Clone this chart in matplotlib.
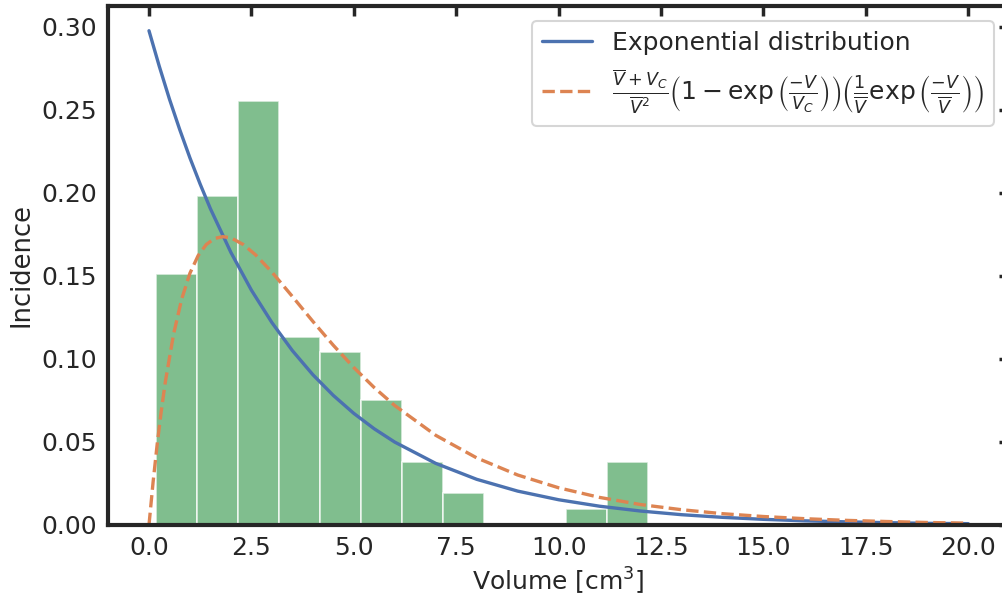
import matplotlib
matplotlib.use('Agg')
import matplotlib.pyplot as plt
import seaborn as sns

# histogram of volumes (density, bin width 1 cm^3)
bin_left = [0.17, 1.17, 2.17, 3.17, 4.17, 5.17, 6.17, 7.17, 8.17, 9.17, 10.17, 11.17]
incidence = [0.151, 0.198, 0.255, 0.113, 0.104, 0.075, 0.038, 0.019, 0.0, 0.0, 0.0094, 0.038]

# exponential curve
exp_v = [0, 0.25, 0.5, 0.75, 1, 1.25, 1.5, 2, 2.5, 3, 3.5, 4, 4.5, 5, 5.5, 6, 7, 8, 9, 10,
         11, 12, 13, 14, 15, 16, 17, 18, 19, 20]
exp_y = [0.2976, 0.2763, 0.2564, 0.2381, 0.2210, 0.2052, 0.1904, 0.1641, 0.1414, 0.1219,
         0.1050, 0.0905, 0.0780, 0.0672, 0.0579, 0.0499, 0.0371, 0.0275, 0.0204, 0.0152,
         0.0113, 0.0084, 0.0062, 0.0046, 0.0034, 0.0025, 0.0019, 0.0014, 0.0010, 0.0008]

# two-exponential curve
mod_v = [0, 0.1, 0.2, 0.3, 0.4, 0.6, 0.8, 1.0, 1.2, 1.4, 1.6, 1.8, 2.0, 2.3, 2.6,
         3.0, 3.5, 4.0, 4.5, 5.0, 5.5, 6, 7, 8, 9, 10, 11, 12, 13, 14, 15, 16,
         17, 18, 19, 20]
mod_y = [0.0, 0.0258, 0.0486, 0.0687, 0.0863, 0.1149, 0.1362, 0.1516, 0.1622,
         0.1689, 0.1725, 0.1736, 0.1729, 0.1689, 0.1627, 0.1523, 0.1376, 0.1226,
         0.1082, 0.0948, 0.0827, 0.0719, 0.0540, 0.0404, 0.0301, 0.0224, 0.0166,
         0.0123, 0.0092, 0.0068, 0.0051, 0.0038, 0.0028, 0.0021, 0.0015, 0.0011]

sns.set_theme(style='ticks', context='talk')
pal = sns.color_palette('deep')
plt.rcParams['font.family'] = ['DejaVu Sans']

fig = plt.figure(figsize=(10.03, 5.98), dpi=100)
ax = fig.add_axes([0.1077, 0.1221, 0.8985, 0.8679])

ax.bar(bin_left, incidence, width=1.0, align='edge', color=pal[2], alpha=0.75,
       edgecolor='white', linewidth=1.2)
ax.plot(exp_v, exp_y, color=pal[0], lw=2.4, label='Exponential distribution')
ax.plot(mod_v, mod_y, color=pal[1], lw=2.4, ls='--',
        label=r'$\frac{\overline{V}+V_C}{\overline{V}^2}\left(1-\exp\left(\frac{-V}{V_C}\right)\right)'
              r'\left(\frac{1}{\overline{V}}\exp\left(\frac{-V}{\overline{V}}\right)\right)$')

ax.set_xlim(-1, 21)
ax.set_ylim(0, 0.3125)
ax.set_xticks([0, 2.5, 5, 7.5, 10, 12.5, 15, 17.5, 20])
ax.set_yticks([0, 0.05, 0.1, 0.15, 0.2, 0.25, 0.3])

for s in ax.spines.values():
    s.set_linewidth(3)
    s.set_color('#262626')
ax.tick_params(direction='in', top=True, right=True, bottom=False, left=False,
               labelbottom=True, labelleft=True, length=7, width=2.5,
               labelsize=18, pad=8, colors='#262626')

ax.set_xlabel(r'Volume [cm$^3$]', fontsize=18, labelpad=4)
ax.set_ylabel('Incidence', fontsize=18.5, labelpad=5)
ax.legend(loc='upper right', fontsize=18, frameon=True, borderaxespad=0.6,
          handlelength=2.0)

fig.savefig('out.png', dpi=100)
